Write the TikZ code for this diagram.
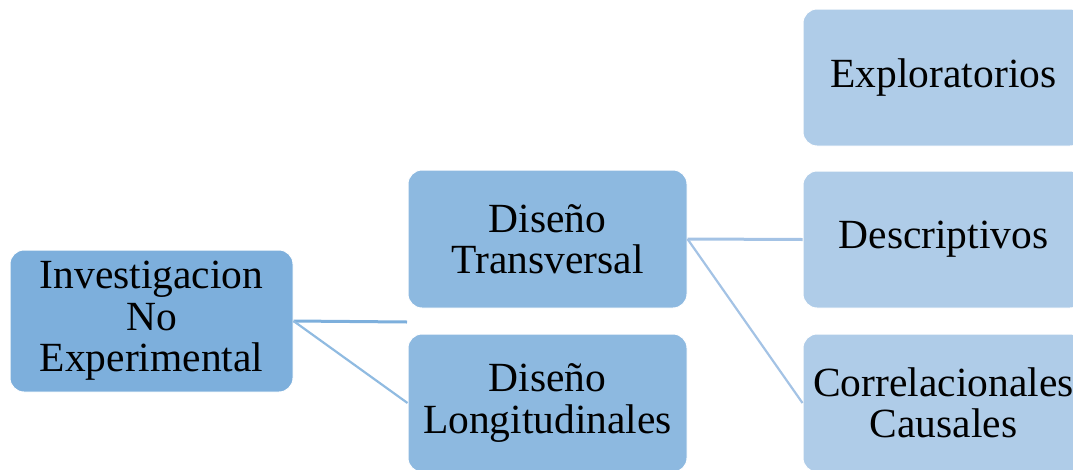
\documentclass[tikz,border=0pt]{standalone}
\usepackage{fontspec}
\setmainfont{Liberation Serif}
\definecolor{cA}{HTML}{7DAFDC}
\definecolor{cB}{HTML}{8DB9E0}
\definecolor{cR}{HTML}{AFCCE8}
\definecolor{lA}{HTML}{7DAFDC}
\definecolor{lB}{HTML}{A4C3E5}
\begin{document}
\begin{tikzpicture}[x=1pt,y=-1pt,
  box/.style={rounded corners=14pt, inner sep=0pt, align=center,
    font=\fontsize{41.5}{41.5}\selectfont, draw=white, line width=1pt, text=black},
  conA/.style={draw=lA, line width=3pt},
  conAd/.style={draw=lA!85, line width=2.2pt},
  conB/.style={draw=lB, line width=3pt},
  conBd/.style={draw=lB, line width=2.2pt}]
\useasboundingbox (0,0) rectangle (1073,469);
\clip (0,0) rectangle (1073,469);
\node[box, fill=cA, minimum width=283pt, minimum height=142pt] (A) at (151.5,321) {Investigacion\\No\\Experimental};
\node[box, fill=cB, minimum width=279pt, minimum height=138pt] (B) at (547.5,239) {Diseño\\Transversal};
\node[box, fill=cB, minimum width=279pt, minimum height=138pt] (C) at (547.5,403) {Diseño\\Longitudinales};
\node[box, fill=cR, minimum width=281pt, minimum height=137pt] (D) at (943.5,77.5) {Exploratorios};
\node[box, fill=cR, minimum width=281pt, minimum height=137pt] (E) at (943.5,239.5) {Descriptivos};
\node[box, fill=cR, minimum width=281pt, minimum height=138pt] (F) at (943.5,403) {Correlacionales\\Causales};
\coordinate (aB) at (407,322);
\draw[conA] (A.east) -- (aB);
\draw[conAd] (A.east) -- (C.west);
\draw[conB] (B.east) -- (E.west);
\draw[conBd] (B.east) -- (F.west);
\end{tikzpicture}
\end{document}
